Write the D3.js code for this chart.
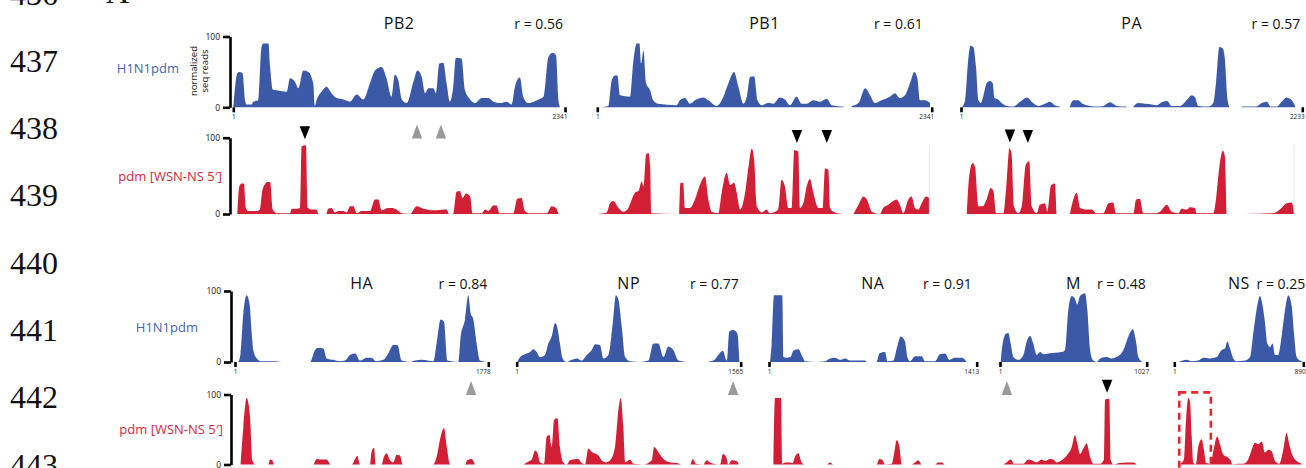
<!DOCTYPE html>
<html>
<head>
<meta charset="utf-8">
<script src="https://d3js.org/d3.v7.min.js"></script>
<style>
  body { margin: 0; background: #fff; }
  svg { display: block; font-family: "Open Sans", "Noto Sans", sans-serif; }
</style>
</head>
<body>
<svg id="chart" width="1306" height="468"></svg>
<script>
// segments, lengths and correlation of the two profiles
const segments = ['PB2', 'PB1', 'PA', 'HA', 'NP', 'NA', 'M', 'NS']
const segLengths = [2341, 2341, 2233, 1778, 1565, 1413, 1027, 890]
const rValues = [0.56, 0.61, 0.57, 0.84, 0.77, 0.91, 0.48, 0.25]
const lineNumbers = [436, 437, 438, 439, 440, 441, 442, 443]
const yTicks = [0, 100]

// coverage profiles: [% along segment, normalized reads], null = no reads
const pdmPB2 = [[0,0],[1.2,48],[1.8,50],[2.8,48],[3.5,11],[4.0,4],[5.5,4],[6.0,8],[7.5,10],[8.5,85],[9.0,90],[10.6,90],[11.1,57],[11.9,25],[13.1,24],[16.1,22],[17.1,41],[18.6,36],[19.6,27],[21.1,52],[22.6,50],[24.1,34],[24.6,2],[25.1,10],[26.6,22],[28.1,29],[29.6,20],[31.2,13],[33.2,11],[35.2,8],[37.2,18],[39.2,11],[41.2,34],[42.7,52],[44.7,57],[46.2,41],[47.7,15],[48.7,46],[49.7,39],[50.8,11],[52.3,6],[54.3,36],[55.5,52],[56.8,43],[57.8,20],[58.8,27],[60.3,27],[61.1,20],[62.1,62],[63.3,63],[64.3,34],[65.3,8],[66.3,29],[67.1,70],[68.8,69],[69.8,25],[71.4,11],[72.9,6],[74.9,13],[76.9,13],[78.4,8],[80.4,6],[82.4,8],[83.9,4],[84.9,29],[86.4,42],[87.4,15],[88.9,6],[90.5,8],[92.0,11],[93.5,15],[95.0,71],[96.3,77],[97.3,73],[98.0,11],[98.5,0]]
const wsnPB2 = [[1.2,0],[1.8,36],[2.5,40],[3.2,40],[3.8,8],[4.5,4],[7.0,4],[8.0,6],[8.8,32],[10.3,42],[11.1,42],[11.9,6],[13.1,1],[17.1,1],[17.6,7],[19.1,7],[20.1,8],[20.6,89],[21.9,90],[22.5,8],[23.6,6],[25.1,6],[25.6,0],[26.5,null],[28.1,0],[28.6,7],[29.6,8],[30.7,2],[31.7,4],[33.2,4],[34.2,2],[35.2,10],[36.2,10],[37.2,1],[38.7,4],[41.2,4],[42.7,19],[43.7,19],[44.7,5],[46.7,8],[47.7,8],[49.2,6],[50.8,1],[53.3,0],[55.3,10],[57.3,7],[60.3,5],[64.3,6],[65.1,0],[66.3,0],[67.3,29],[68.3,30],[69.1,21],[70.2,27],[71.4,23],[72.1,1],[74.9,1],[75.9,6],[76.9,4],[78.4,11],[79.4,11],[80.2,1],[84.4,1],[85.6,20],[86.9,21],[87.9,4],[89.4,1],[94.5,1],[96.0,10],[97.3,8],[98.0,0]]
const pdmPB1 = [[0.3,0],[3.3,2],[4.3,38],[5.3,45],[6.0,45],[6.8,17],[9.8,15],[10.8,66],[11.8,90],[12.6,90],[13.1,62],[13.8,80],[14.6,34],[15.8,24],[16.7,10],[18.2,5],[23.7,3],[24.7,10],[26.2,13],[27.7,5],[29.2,10],[31.7,14],[33.2,10],[35.7,2],[37.7,15],[39.2,34],[40.9,50],[42.2,29],[43.7,5],[44.7,15],[45.7,43],[46.9,44],[47.9,10],[49.2,3],[51.1,6],[52.6,5],[54.6,14],[56.1,11],[57.6,3],[59.6,15],[61.1,5],[62.6,5],[64.6,10],[66.6,8],[68.6,12],[70.1,3],[73.6,1],[74.8,null],[76.1,2],[78.1,6],[80.1,27],[81.6,17],[83.0,6],[85.0,10],[87.5,15],[89.0,20],[90.5,13],[92.0,17],[93.5,34],[94.8,50],[95.7,41],[96.5,10],[98.0,10],[99.5,6]]
const wsnPB1 = [[0,0],[2.8,2],[3.8,14],[4.8,17],[6.3,8],[7.8,3],[9.3,8],[10.3,19],[11.3,28],[12.3,30],[13.3,43],[13.8,36],[14.6,78],[15.3,80],[15.8,62],[16.1,1],[23.2,0],[23.9,null],[24.5,0],[24.9,41],[25.7,41],[26.2,8],[27.7,8],[29.2,19],[30.5,36],[32.2,49],[33.2,19],[34.2,3],[36.2,1],[37.2,28],[38.7,54],[39.7,38],[40.9,41],[41.7,28],[42.7,6],[44.2,28],[45.2,62],[46.2,86],[46.9,71],[47.7,10],[49.2,2],[50.6,6],[51.6,1],[54.1,6],[55.1,45],[56.1,36],[57.1,8],[58.1,8],[58.9,84],[60.1,82],[60.6,8],[61.6,14],[62.6,36],[63.6,46],[64.6,28],[66.1,8],[67.4,8],[68.1,60],[69.1,58],[69.6,8],[71.1,2],[73.6,0],[75.0,null],[76.6,0],[78.1,12],[79.6,23],[80.6,19],[82.1,3],[84.5,0],[85.5,8],[87.0,12],[88.5,17],[89.5,19],[90.5,12],[91.5,1],[93.0,19],[94.0,23],[95.0,8],[96.0,6],[97.0,14],[98.3,23],[99.3,21]]
const pdmPA = [[0.2,0],[1.2,10],[2.1,66],[2.8,87],[3.6,85],[4.4,57],[5.1,10],[5.8,6],[6.5,15],[7.5,34],[8.5,37],[9.3,34],[9.8,13],[10.9,11],[11.9,6],[13.4,2],[15.3,1],[17.3,8],[19.4,14],[20.7,8],[22.7,2],[24.6,5],[26.1,8],[27.5,3],[29.0,1],[30.5,null],[31.9,1],[32.9,10],[34.4,10],[35.6,5],[37.8,2],[40.2,1],[41.7,2],[43.7,7],[45.6,2],[48.5,1],[49.5,null],[50.5,1],[52.0,6],[53.9,5],[55.9,4],[57.3,3],[59.1,8],[60.4,9],[61.7,2],[64.2,2],[66.1,10],[67.6,17],[68.6,14],[69.5,2],[72.5,1],[73.9,6],[74.7,34],[75.7,85],[76.7,83],[77.3,69],[78.0,15],[78.6,1],[80.5,null],[82.2,1],[86.5,1],[88.1,6],[89.6,8],[90.8,1],[92.5,1],[93.9,8],[95.4,14],[96.9,10],[97.9,2]]
const wsnPA = [[1.7,0],[2.4,49],[3.4,67],[4.1,62],[5.1,10],[6.3,10],[7.5,19],[8.7,34],[9.5,30],[10.3,1],[12.4,1],[13.2,32],[14.2,86],[14.8,80],[15.5,10],[16.8,1],[17.8,10],[19.0,65],[20.0,69],[20.7,10],[22.2,1],[23.1,12],[24.6,14],[25.3,3],[26.4,38],[27.5,40],[28.0,0],[30.0,null],[31.9,0],[32.9,19],[33.9,28],[34.9,8],[36.8,6],[38.3,6],[39.7,1],[41.7,1],[43.2,14],[44.6,15],[45.4,1],[50.5,1],[51.3,19],[52.4,20],[53.4,1],[57.0,1],[58.3,3],[60.3,12],[61.7,3],[63.7,1],[64.6,7],[66.1,6],[67.1,9],[68.6,8],[69.0,1],[73.9,1],[74.7,19],[75.7,62],[76.7,83],[77.3,76],[77.8,0],[80.0,null],[82.7,0],[91.5,1],[93.9,8],[95.4,14],[96.9,15],[97.6,0]]
const pdmHA = [[1.3,0],[2.2,12],[3.3,69],[4.6,94],[5.7,83],[6.6,40],[7.2,17],[8.6,5],[10.5,1],[15.1,1],[18.4,0],[29.6,0],[31.6,17],[32.9,20],[34.9,19],[36.2,5],[38.8,3],[41.4,1],[43.4,2],[45.4,10],[47.4,12],[49.3,2],[52.0,6],[53.9,6],[55.7,1],[58.6,3],[60.5,12],[62.5,24],[64.1,24],[65.8,2],[69.1,0],[71.1,2],[73.7,3],[78.3,1],[79.6,26],[81.2,60],[82.5,57],[83.8,2],[88.2,0],[89.1,36],[90.8,60],[92.1,94],[93.0,69],[94.1,60],[95.4,26],[96.7,2],[99.3,0]]
const wsnHA = [[2.2,0],[3.3,54],[4.6,95],[5.9,69],[6.8,6],[7.9,0],[13.2,0],[13.8,7],[14.7,6],[15.4,0],[30.9,0],[32.2,8],[33.6,7],[36.2,7],[37.8,0],[46.1,0],[47.4,8],[48.3,12],[49.3,0],[53.3,0],[53.9,18],[54.9,24],[55.5,0],[57.9,0],[58.8,11],[59.9,16],[60.9,8],[62.5,3],[63.8,14],[65.1,13],[66.2,0],[78.3,0],[79.6,11],[81.2,40],[82.5,52],[83.6,25],[84.9,0],[90.8,0],[91.7,6],[93.4,8],[94.7,0]]
const pdmNP = [[0.3,0],[1.5,7],[3.7,11],[6.0,14],[7.4,18],[8.9,14],[10.4,7],[12.6,10],[14.1,26],[15.6,36],[17.1,55],[18.2,48],[19.3,26],[20.5,5],[22.3,0],[24.6,3],[26.8,5],[29.0,2],[31.3,10],[33.5,17],[35.0,25],[37.2,24],[38.7,5],[40.9,10],[42.9,55],[44.3,94],[45.4,88],[46.9,50],[48.4,7],[50.6,1],[55.1,0],[58.8,2],[61.0,26],[63.2,26],[65.5,7],[67.7,22],[69.9,17],[72.2,2],[75.9,0],[84.8,0],[87.8,2],[90.0,10],[92.0,16],[93.8,2],[94.9,43],[96.7,45],[98.5,40],[99.4,0]]
const wsnNP = [[3.0,0],[4.5,3],[6.7,7],[8.2,20],[9.2,17],[10.4,3],[12.2,1],[13.4,40],[14.6,42],[15.6,25],[16.7,64],[18.2,66],[19.3,25],[20.8,3],[22.3,0],[23.8,6],[27.5,8],[29.0,2],[30.5,0],[32.0,23],[33.5,18],[36.5,13],[37.9,6],[39.9,3],[41.7,6],[43.9,25],[45.4,78],[46.4,95],[47.6,54],[48.4,3],[50.6,7],[52.1,1],[56.5,0],[60.3,6],[61.3,25],[63.2,18],[64.7,11],[66.2,6],[68.5,3],[71.4,2],[73.7,0],[77.4,0],[78.6,8],[80.1,1],[83.3,0],[84.8,6],[86.3,3],[90.8,0],[92.0,15],[93.5,11],[94.5,0],[96.0,6],[98.2,5],[99.1,0]]
const pdmNA = [[0.5,0],[1.3,26],[2.4,94],[6.4,94],[6.9,7],[8.5,6],[10.4,7],[11.7,16],[14.1,18],[16.2,7],[17.3,1],[23.0,0],[27.0,1],[29.4,5],[31.8,6],[34.2,3],[36.6,5],[39.0,2],[46.2,2],[47.0,0],[51.8,0],[53.1,12],[55.9,14],[57.0,1],[59.9,2],[61.5,19],[63.4,36],[65.5,29],[66.6,7],[67.9,1],[70.3,8],[73.5,8],[75.1,1],[79.9,1],[82.3,11],[84.8,12],[86.8,3],[89.6,6],[92.8,6],[95.2,0]]
const wsnNA = [[2.1,0],[2.9,95],[5.8,95],[6.3,1],[7.7,3],[10.1,3],[11.4,2],[12.5,11],[14.1,16],[15.7,3],[17.3,0],[27.8,0],[29.4,3],[31.0,0],[51.8,0],[53.1,8],[54.7,6],[55.9,0],[59.1,1],[60.2,15],[61.5,35],[62.8,25],[63.9,0],[68.7,0],[70.3,3],[71.9,6],[73.5,0],[79.9,0],[81.5,3],[83.1,3],[84.8,0],[91.2,0]]
const pdmM = [[0.5,0],[1.8,26],[4.1,40],[5.7,41],[7.3,26],[9.1,7],[12.5,3],[15.9,10],[18.2,29],[20.5,37],[22.7,26],[25.0,10],[27.3,14],[29.5,11],[33.0,12],[37.5,13],[42.0,14],[44.3,17],[46.6,74],[48.9,93],[51.1,89],[52.7,81],[54.5,93],[58.0,97],[59.5,74],[61.4,17],[63.6,2],[65.9,0],[68.2,5],[72.7,7],[76.1,5],[79.5,7],[84.1,17],[87.5,36],[90.5,46],[92.7,29],[94.3,7],[96.6,1]]
const wsnM = [[2.3,0],[4.5,3],[7.3,7],[9.5,1],[15.9,1],[19.3,7],[21.6,6],[25.0,3],[28.4,7],[30.7,5],[34.1,8],[36.4,7],[38.6,3],[42.0,6],[45.5,13],[48.9,25],[51.1,42],[52.7,30],[54.5,15],[56.8,23],[59.1,30],[61.4,11],[63.6,1],[68.2,1],[70.9,7],[71.6,93],[74.5,94],[75.5,6],[77.3,0],[81.8,2],[86.4,3],[90.9,3],[93.2,0]]
const pdmNS = [[3.1,0],[6.5,2],[9.6,3],[13.4,1],[18.6,2],[22.5,6],[27.6,5],[32.8,7],[36.7,17],[39.3,19],[41.1,29],[43.2,19],[45.7,5],[48.3,1],[54.8,2],[58.7,7],[61.2,40],[63.8,74],[66.4,93],[68.5,79],[70.3,55],[72.1,26],[74.2,21],[76.2,26],[78.0,10],[80.6,10],[82.4,26],[85.0,62],[88.4,94],[91.0,79],[92.8,40],[94.8,7],[97.4,2],[99.5,0]]
const wsnNS = [[4.4,1],[7.5,7],[9.1,64],[10.9,95],[12.2,90],[13.5,40],[14.7,2],[16.8,0],[18.6,26],[21.2,36],[23.0,21],[24.6,2],[28.2,1],[30.2,19],[33.3,40],[35.4,29],[38.0,14],[40.6,11],[43.2,7],[45.3,0],[49.6,1],[53.5,1],[56.6,5],[58.7,14],[62.6,31],[65.1,29],[67.8,33],[70.3,17],[72.9,21],[75.5,19],[78.1,5],[81.4,1],[84.0,17],[87.1,45],[89.1,29],[91.8,12],[94.9,5],[98.8,1]]

const pdmProfiles = [pdmPB2, pdmPB1, pdmPA, pdmHA, pdmNP, pdmNA, pdmM, pdmNS]
const wsnProfiles = [wsnPB2, wsnPB1, wsnPA, wsnHA, wsnNP, wsnNA, wsnM, wsnNS]

// arrowheads (segment, nucleotide)
const blackMarks = [['PB2', 506], ['PB1', 1398], ['PB1', 1607], ['PA', 321], ['PA', 438], ['M', 750]]
const grayMarks = [['PB2', 1297], ['PB2', 1466], ['HA', 1657], ['NP', 1512], ['M', 49]]
const nsBox = {segment: 'NS', start: 35, end: 253}

// layout
const blue = '#3c59a8'
const red = '#d21f36'
const panelX = [[233.3, 565], [597.3, 931.7], [961, 1302.3], [235, 488.3], [516.7, 740.7], [769, 976.7], [1000, 1146.7], [1174.3, 1303.3]]
const panelRow = [0, 0, 0, 1, 1, 1, 1, 1]
const rDx = [-2, -9, -2, -1, -2, -5, -1, 2]
const rowGeom = [
  {blue: [107.3, 36.5], red: [214, 137.7], title: 29, axisX: 230, bLabel: [179, 73], rLabel: [222, 181], markBase: 138.5, markCap: 143},
  {blue: [362, 291], red: [464.5, 394.5], title: 289, axisX: 231, bLabel: [198, 331.5], rLabel: [223, 434], markBase: 395, markCap: 395}
]

const svg = d3.select('#chart')

// manuscript line numbers
svg.selectAll('.lineno')
  .data(lineNumbers)
  .join('text')
  .attr('class', 'lineno')
  .attr('x', 10)
  .attr('y', (d, i) => 4.5 + i * 67.3)
  .attr('font-family', '"Liberation Serif", serif')
  .attr('font-size', '32px')
  .attr('fill', '#111')
  .text(d => d)

svg.append('text').attr('x', 106).attr('y', 3)
  .attr('font-family', '"Liberation Serif", serif').attr('font-size', '32px')
  .attr('fill', '#111').text('A')

// row labels
rowGeom.forEach(g => {
  svg.append('text').attr('x', g.bLabel[0]).attr('y', g.bLabel[1])
    .attr('text-anchor', 'end').attr('font-size', '13px').attr('fill', '#4762b0')
    .text('H1N1pdm')
  svg.append('text').attr('x', g.rLabel[0]).attr('y', g.rLabel[1])
    .attr('text-anchor', 'end').attr('font-size', '13px').attr('fill', '#d4283c')
    .text('pdm [WSN-NS 5\u2032]')
})

const scales = {}

segments.forEach((seg, i) => {
  const g = rowGeom[panelRow[i]]
  const len = segLengths[i]
  const x = d3.scaleLinear().domain([1, len]).range(panelX[i])
  const yB = d3.scaleLinear().domain([0, 100]).range(g.blue)
  const yR = d3.scaleLinear().domain([0, 100]).range(g.red)
  const nt = p => 1 + p / 100 * (len - 1)
  scales[seg] = {x, yB, yR, row: panelRow[i], i}

  const panel = svg.append('g').attr('class', 'panel-' + seg)

  const areaB = d3.area()
    .defined(d => d[1] !== null)
    .x(d => x(nt(d[0])))
    .y0(yB(0))
    .y1(d => yB(d[1]))
    .curve(d3.curveMonotoneX)
  const areaR = d3.area()
    .defined(d => d[1] !== null)
    .x(d => x(nt(d[0])))
    .y0(yR(0))
    .y1(d => yR(d[1]))
    .curve(d3.curveMonotoneX)

  panel.append('path').datum(pdmProfiles[i]).attr('d', areaB).attr('fill', blue)
  panel.append('path').datum(wsnProfiles[i]).attr('d', areaR).attr('fill', red)

  // faint right edge on the two long red tracks
  if (seg === 'PB1' || seg === 'PA') {
    const last = wsnProfiles[i][wsnProfiles[i].length - 1]
    panel.append('line')
      .attr('x1', x(nt(last[0]))).attr('x2', x(nt(last[0])))
      .attr('y1', yR(0)).attr('y2', yR(90))
      .attr('stroke', '#e4e4e4').attr('stroke-width', 0.8)
  }

  // position axis: end ticks only
  const xAxis = d3.axisBottom(x).tickValues([1, len]).tickFormat(d3.format('d')).tickSize(5).tickPadding(2)
  const ax = panel.append('g').attr('transform', `translate(0,${yB(0)})`).call(xAxis)
  ax.select('.domain').remove()
  ax.selectAll('.tick line').attr('stroke', '#000').attr('stroke-width', 2.6)
  ax.selectAll('.tick text')
    .attr('font-size', '6.5px').attr('font-family', '"Open Sans", sans-serif').attr('fill', '#222')
    .attr('text-anchor', d => d === 1 ? 'middle' : 'end')
    .attr('dx', d => d === 1 ? 0 : '0.3em')

  // titles
  panel.append('text')
    .attr('x', (panelX[i][0] + panelX[i][1]) / 2)
    .attr('y', g.title)
    .attr('text-anchor', 'middle').attr('font-size', '16px').attr('fill', '#111')
    .attr('letter-spacing', '0.5px')
    .text(seg)
  panel.append('text')
    .attr('x', panelX[i][1] + rDx[i])
    .attr('y', g.title)
    .attr('text-anchor', 'end').attr('font-size', '14px').attr('fill', '#111')
    .text('r = ' + d3.format('.2f')(rValues[i]))

  // bracket y-axes on the first panel of each row
  if (i === 0 || i === 3) {
    [yB, yR].forEach(y => {
      const yAxis = d3.axisLeft(y).tickValues(yTicks).tickSize(7).tickSizeOuter(0).tickPadding(3)
      const ay = panel.append('g').attr('transform', `translate(${g.axisX},0)`).call(yAxis)
      ay.select('.domain').attr('stroke', '#000').attr('stroke-width', 2.6)
      ay.selectAll('.tick line').attr('stroke', '#000').attr('stroke-width', 2.6)
      ay.selectAll('.tick text').attr('font-size', '8.5px')
        .attr('font-family', '"Open Sans", sans-serif').attr('fill', '#111')
    })
  }
})

// y-axis title
const yTitle = svg.append('text')
  .attr('transform', 'translate(197,71) rotate(-90)')
  .attr('text-anchor', 'middle').attr('font-size', '9.5px').attr('fill', '#111')
yTitle.append('tspan').attr('x', 0).attr('dy', 0).text('normalized')
yTitle.append('tspan').attr('x', 0).attr('dy', '1.15em').text('seq reads')

// black arrowheads above enriched peaks
const tri = (cx, base, tip, w) => `M${cx - w / 2},${base}L${cx + w / 2},${base}L${cx},${tip}Z`
blackMarks.forEach(([seg, pos]) => {
  const s = scales[seg]
  const g = rowGeom[s.row]
  const len = segLengths[s.i]
  const near = wsnProfiles[s.i].filter(d => d[1] !== null && Math.abs(1 + d[0] / 100 * (len - 1) - pos) < len * 0.015)
  const peak = d3.max(near, d => d[1])
  const tip = Math.min(g.markCap, s.yR(peak) - 6)
  svg.append('path').attr('d', tri(s.x(pos), tip - 13, tip, 10.5)).attr('fill', '#000')
})

// gray arrowheads
grayMarks.forEach(([seg, pos]) => {
  const s = scales[seg]
  const g = rowGeom[s.row]
  svg.append('path').attr('d', tri(s.x(pos), g.markBase, g.markBase - 14, 10.5)).attr('fill', '#9a9a9a')
})

// dashed box on NS 5' region
const sb = scales[nsBox.segment]
svg.append('rect')
  .attr('x', sb.x(nsBox.start))
  .attr('y', sb.yR(103))
  .attr('width', sb.x(nsBox.end) - sb.x(nsBox.start))
  .attr('height', 120)
  .attr('fill', 'none')
  .attr('stroke', '#e8262c')
  .attr('stroke-width', 2.6)
  .attr('stroke-dasharray', '7,5')
</script>
</body>
</html>
